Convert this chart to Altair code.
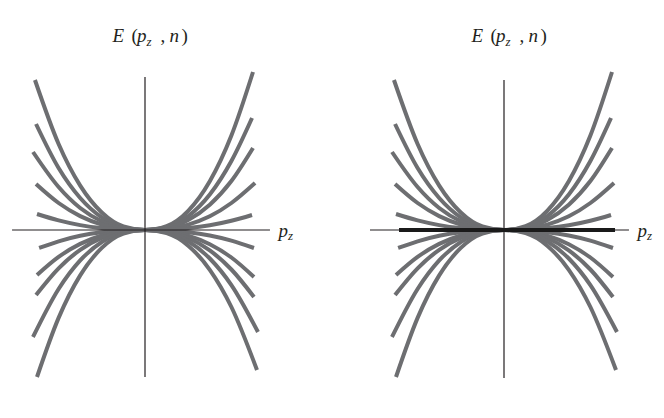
import altair as alt
import pandas as pd

# ---- data (p in units of curve half-width, E in arbitrary units)
P_GRID = [-0.8, -0.6, -0.4, -0.2, 0.0, 0.2, 0.4, 0.6, 0.8]

CURVE_NAMES = ["u1", "u2", "u3", "u4", "u5", "l1", "l2", "l3", "l4", "l5"]
P_LEFT_END = [-1.019, -1.009, -1.037, -1.009, -1.0, -0.98, -1.0, -1.009, -1.037, -1.0]
P_RIGHT_END = [1.0, 0.991, 1.0, 1.019, 0.991, 1.009, 1.009, 1.009, 1.046, 1.037]

E_U1 = [1.50, 0.86, 0.444, 0.175, 0.035, 0.0, 0.039, 0.192, 0.488, 0.945, 1.58]
E_U2 = [1.06, 0.62, 0.32, 0.126, 0.026, 0.0, 0.028, 0.139, 0.355, 0.69, 1.12]
E_U3 = [0.78, 0.43, 0.22, 0.087, 0.018, 0.0, 0.020, 0.10, 0.253, 0.49, 0.82]
E_U4 = [0.46, 0.27, 0.139, 0.055, 0.011, 0.0, 0.011, 0.054, 0.137, 0.27, 0.47]
E_U5 = [0.16, 0.096, 0.049, 0.019, 0.004, 0.0, 0.004, 0.019, 0.047, 0.092, 0.15]
E_L1 = [-0.18, -0.113, -0.058, -0.023, -0.005, 0.0, -0.004, -0.022, -0.055, -0.106, -0.18]
E_L2 = [-0.45, -0.269, -0.139, -0.055, -0.011, 0.0, -0.011, -0.056, -0.142, -0.275, -0.47]
E_L3 = [-0.65, -0.383, -0.198, -0.078, -0.016, 0.0, -0.016, -0.080, -0.204, -0.395, -0.67]
E_L4 = [-1.07, -0.59, -0.304, -0.12, -0.024, 0.0, -0.023, -0.112, -0.285, -0.551, -1.02]
E_L5 = [-1.47, -0.879, -0.454, -0.179, -0.036, 0.0, -0.032, -0.157, -0.398, -0.77, -1.40]
E_ALL = [E_U1, E_U2, E_U3, E_U4, E_U5, E_L1, E_L2, E_L3, E_L4, E_L5]

# axis extents per panel: [p_left, p_right, E_bottom, E_top]
AXES_LEFT = [-1.231, 1.157, -1.47, 1.53]
AXES_RIGHT = [-1.241, 1.157, -1.48, 1.50]
THICK_SEGMENT = [-0.972, 1.028]

TITLE_E = 1.883
LABEL_P = 1.236

# ---- build tables
rows = []
for name, pl, pr, es in zip(CURVE_NAMES, P_LEFT_END, P_RIGHT_END, E_ALL):
    ps = [pl] + P_GRID + [pr]
    for i, (p, e) in enumerate(zip(ps, es)):
        rows.append({"curve": name, "order": i, "p": p, "E": e})
curves_df = pd.DataFrame(rows)

X_DOMAIN = [-137 / 108, (289 - 137) / 108]
Y_DOMAIN = [-1.78, 2.22]
xs = alt.Scale(domain=X_DOMAIN, nice=False, zero=False)
ys = alt.Scale(domain=Y_DOMAIN, nice=False, zero=False)

GRAY = "#6d6e71"
INK = "#231f20"
FONT = "Liberation Serif"


def panel(axes, thick):
    base_curves = alt.Chart(curves_df).mark_line(
        color=GRAY, strokeWidth=4, interpolate="monotone", strokeCap="butt"
    ).encode(
        x=alt.X("p:Q", scale=xs, axis=None),
        y=alt.Y("E:Q", scale=ys, axis=None),
        detail="curve:N",
        order="order:Q",
    )
    hdf = pd.DataFrame({"p0": [axes[0]], "p1": [axes[1]], "e": [0.0]})
    vdf = pd.DataFrame({"p": [0.0], "e0": [axes[2]], "e1": [axes[3]]})
    hline = alt.Chart(hdf).mark_rule(color=INK, strokeWidth=1.2).encode(
        x=alt.X("p0:Q", scale=xs, axis=None), x2="p1:Q",
        y=alt.Y("e:Q", scale=ys, axis=None))
    vline = alt.Chart(vdf).mark_rule(color=INK, strokeWidth=1.2).encode(
        x=alt.X("p:Q", scale=xs, axis=None),
        y=alt.Y("e0:Q", scale=ys, axis=None), y2="e1:Q")
    layers = [base_curves, hline, vline]
    if thick:
        tdf = pd.DataFrame({"p0": [THICK_SEGMENT[0]], "p1": [THICK_SEGMENT[1]], "e": [0.0]})
        layers.append(alt.Chart(tdf).mark_rule(color="#1a1a1a", strokeWidth=4).encode(
            x=alt.X("p0:Q", scale=xs, axis=None), x2="p1:Q",
            y=alt.Y("e:Q", scale=ys, axis=None)))

    tdf = pd.DataFrame({"p": [0.0], "e": [TITLE_E]})
    pieces = [
        ("E", -32.5, 0, 19, "italic"),
        ("(", -13.5, 0, 19, "normal"),
        ("p", -8.0, 0, 19, "italic"),
        ("z", 1.5, 4, 13, "italic"),
        (",", 15.5, 0, 19, "normal"),
        ("n", 24.5, 0, 19, "italic"),
        (")", 36.5, 0, 19, "normal"),
    ]
    for txt, dx, dy, size, style in pieces:
        layers.append(alt.Chart(tdf).mark_text(
            text=txt, dx=dx, dy=dy, fontSize=size, fontStyle=style, font=FONT,
            color=INK, align="left", baseline="alphabetic").encode(
            x=alt.X("p:Q", scale=xs, axis=None), y=alt.Y("e:Q", scale=ys, axis=None)))

    ldf = pd.DataFrame({"p": [LABEL_P], "e": [0.0]})
    for txt, dx, dy, size in [("p", 0, 6.5, 19), ("z", 9.5, 9.5, 13)]:
        layers.append(alt.Chart(ldf).mark_text(
            text=txt, dx=dx, dy=dy, fontSize=size, fontStyle="italic", font=FONT,
            color=INK, align="left", baseline="alphabetic").encode(
            x=alt.X("p:Q", scale=xs, axis=None), y=alt.Y("e:Q", scale=ys, axis=None)))
    return alt.layer(*layers).properties(width=289, height=400)


chart = alt.hconcat(
    panel(AXES_LEFT, False), panel(AXES_RIGHT, True), spacing=70, bounds="flush"
).properties(padding=0, background="white").configure_view(stroke=None)

chart.save("out.html", embed_options={"renderer": "svg", "actions": False})
